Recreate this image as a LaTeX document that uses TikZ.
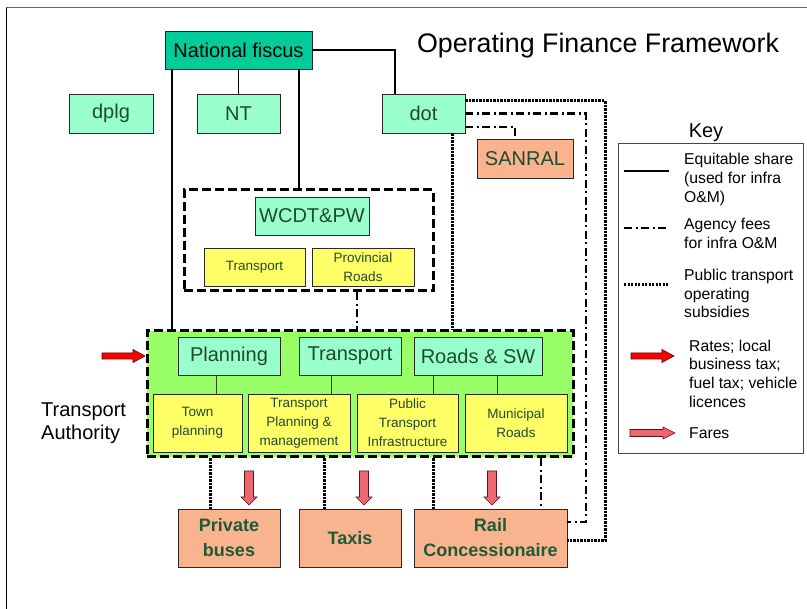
\documentclass[tikz,border=0pt]{standalone}
\usepackage{fontspec}
\setmainfont{Liberation Sans}
\definecolor{mint}{HTML}{99FFCC}
\definecolor{fiscus}{HTML}{00CC99}
\definecolor{yel}{HTML}{FFFF66}
\definecolor{tagreen}{HTML}{99FF66}
\definecolor{salmon}{HTML}{F9B48F}
\definecolor{fare}{HTML}{EE6670}
\definecolor{txtgreen}{HTML}{1F4A30}
\definecolor{boldgreen}{HTML}{1E5A38}
\definecolor{edge}{HTML}{282828}
\newcommand\myfs[2]{\fontsize{#1}{#2}\selectfont}
\begin{document}
\begin{tikzpicture}[x=1pt,y=-1pt,
  box/.style={draw=edge, line width=0.9, rectangle, inner sep=2, align=center},
  mintbox/.style={box, fill=mint, text=txtgreen, font=\myfs{20}{24}},
  yelbox/.style={box, fill=yel, text=txtgreen, font=\myfs{13.5}{19}},
  opbox/.style={box, fill=salmon, text=boldgreen, font=\bfseries\myfs{18}{25}},
  dashborder/.style={draw=black, line width=3, dash pattern=on 9 off 4},
  eqline/.style={line width=1.2, draw=black},
  agency/.style={line width=2.5, draw=black, dash pattern=on 8 off 3.5 on 2 off 3.5},
  subsidy/.style={line width=3, draw=black, dash pattern=on 2.2 off 1.3},
  innerline/.style={line width=1, draw={rgb,255:red,45;green,75;blue,45}},
  keytext/.style={align=left, inner sep=0, font=\myfs{15.7}{18.7}},
  redarrowR/.pic={\filldraw[fill=red, draw={rgb,255:red,90;green,0;blue,0}, line width=0.6]
     (0,-3) -- (31,-3) -- (31,-6.5) -- (43,0) -- (31,6.5) -- (31,3) -- (0,3) -- cycle;},
  fareR/.pic={\filldraw[fill=fare, draw={rgb,255:red,90;green,20;blue,20}, line width=0.6]
     (0,-3.5) -- (33,-3.5) -- (33,-6) -- (45,0) -- (33,6) -- (33,3.5) -- (0,3.5) -- cycle;},
  fareD/.pic={\filldraw[fill=fare, draw={rgb,255:red,90;green,20;blue,20}, line width=0.6]
     (-4.5,0) -- (-4.5,26) -- (-8,26) -- (0,34) -- (8,26) -- (4.5,26) -- (4.5,0) -- cycle;}
]
\useasboundingbox (0,0) rectangle (807,609);
\fill[white] (0,0) rectangle (807,609);
% frame
\draw[line width=1, draw=gray!80!black] (807,8) -- (6,8);
\draw[line width=1, draw=black] (6,8) -- (6,609);

% title
\node[font=\myfs{26.8}{30}, inner sep=0] (title) at (598,46) {Operating Finance Framework};

% top nodes
\node[box, fill=fiscus, text=black, font=\myfs{20}{24}, minimum width=147, minimum height=38] (nf) at (238.5,50) {National fiscus};
\node[mintbox, minimum width=84, minimum height=39] (dplg) at (111,113.5) {dplg};
\node[mintbox, minimum width=83, minimum height=39] (nt) at (238.5,113.5) {NT};
\node[mintbox, minimum width=83, minimum height=39] (dot) at (423.5,113.5) {dot};
\node[box, fill=salmon, text=txtgreen, font=\myfs{20}{24}, minimum width=96, minimum height=39] (sanral) at (525,158.5) {SANRAL};

% WCDT group
\node[dashborder, rectangle, minimum width=249, minimum height=101] (wcdtbox) at (308.5,240.5) {};
\node[mintbox, minimum width=114, minimum height=38] (wcdt) at (312,216) {WCDT\&PW};
\node[yelbox, minimum width=101, minimum height=38] (ptrans) at (254.5,267) {Transport};
\node[yelbox, minimum width=102, minimum height=38] (proads) at (363,267) {Provincial\\Roads};

% Transport Authority
\node[dashborder, fill=tagreen, rectangle, minimum width=426, minimum height=126] (ta) at (360,394) {};
\node[mintbox, minimum width=102, minimum height=38] (planning) at (229,356) {Planning};
\node[mintbox, minimum width=102, minimum height=38] (transport) at (350,356) {Transport};
\node[mintbox, minimum width=128, minimum height=38] (roads) at (478,356) {Roads \& SW};
\node[yelbox, minimum width=89, minimum height=58] (town) at (197.5,423) {Town\\planning};
\node[yelbox, minimum width=102, minimum height=58] (tpm) at (299,423) {Transport\\Planning \&\\management};
\node[yelbox, minimum width=101, minimum height=58] (pti) at (407.5,423) {Public\\Transport\\Infrastructure};
\node[yelbox, minimum width=102, minimum height=58] (muni) at (516,423) {Municipal\\Roads};
\node[align=left, anchor=west, inner sep=0, font=\myfs{20}{23}] (talabel) at (41,423.5) {Transport\\Authority};

% operators
\node[opbox, minimum width=102, minimum height=58] (buses) at (229,538) {Private\\buses};
\node[opbox, minimum width=102, minimum height=58] (taxis) at (350,538) {Taxis};
\node[opbox, minimum width=153, minimum height=58] (rail) at (490.5,538) {Rail\\Concessionaire};

% helper x positions
\coordinate (xa) at (172,0);
\coordinate (xb) at (299,0);
\coordinate (xc) at (395,0);
\coordinate (xd) at (452,0);
\coordinate (xe) at (357,0);
\coordinate (xf) at (586,0);
\coordinate (xg) at (605,0);
\coordinate (xh) at (515,0);
\coordinate (b1) at (210,0);
\coordinate (b2) at (324,0);
\coordinate (b3) at (433,0);
\coordinate (b4) at (541,0);
\coordinate (i1) at (216,0);
\coordinate (i2) at (331,0);
\coordinate (i3) at (433,0);
\coordinate (i4) at (497,0);

% equitable share
\draw[eqline] (nf.south -| xa) -- (ta.north -| xa);
\draw[eqline] (nf.south -| nt.north) -- (nt.north);
\draw[eqline] (nf.south -| xb) -- (wcdtbox.north -| xb);
\draw[eqline] (nf.east) -| (dot.north -| xc);

% inner TA links
\draw[innerline] (planning.south -| i1) -- (town.north -| i1);
\draw[innerline] (transport.south -| i2) -- (tpm.north -| i2);
\draw[innerline] (roads.south -| i3) -- (pti.north -| i3);
\draw[innerline] (roads.south -| i4) -- (muni.north -| i4);

% agency fees
\draw[agency] ([yshift=-13.5]dot.east) -| (sanral.north -| xh);
\draw[agency] (dot.east) -| ([yshift=16]rail.east -| xf) -- ([yshift=16]rail.east);
\draw[agency] (wcdtbox.south -| xe) -- (ta.north -| xe);
\draw[agency] (ta.south -| b4) -- (rail.north -| b4);

% subsidies
\draw[subsidy] ([yshift=12.5]dot.east) -| ([yshift=-3]rail.east -| xg) -- ([yshift=-3]rail.east);
\draw[subsidy] (dot.south -| xd) -- (ta.north -| xd);
\draw[subsidy] (ta.south -| b1) -- (buses.north -| b1);
\draw[subsidy] (ta.south -| b2) -- (taxis.north -| b2);
\draw[subsidy] (ta.south -| b3) -- (rail.north -| b3);

% arrows
\pic at (102,356) {redarrowR};
\pic at (249,471) {fareD};
\pic at (364,471) {fareD};
\pic at (492,471) {fareD};

% key
\node[font=\myfs{20}{24}, inner sep=0] (keytitle) at (706,133) {Key};
\node[draw={rgb,255:red,70;green,70;blue,70}, line width=0.9, rectangle, minimum width=185, minimum height=310] (key) at (710.5,298) {};
\draw[eqline] (624,171) -- (669,171);
\node[keytext, anchor=west] (k1) at (684,179.5) {Equitable share\\(used for infra\\O\&M)};
\draw[agency] (624,228) -- (669,228);
\node[keytext, anchor=west] (k2) at (684,233.5) {Agency fees\\for infra O\&M};
\draw[subsidy] (624,285) -- (669,285);
\node[keytext, anchor=west] (k3) at (684,293.5) {Public transport\\operating\\subsidies};
\pic at (631,356) {redarrowR};
\node[keytext, anchor=west] (k4) at (689,373.5) {Rates; local\\business tax;\\fuel tax; vehicle\\licences};
\pic at (630,433) {fareR};
\node[keytext, anchor=west] (k5) at (689,433) {Fares};
\end{tikzpicture}
\end{document}
